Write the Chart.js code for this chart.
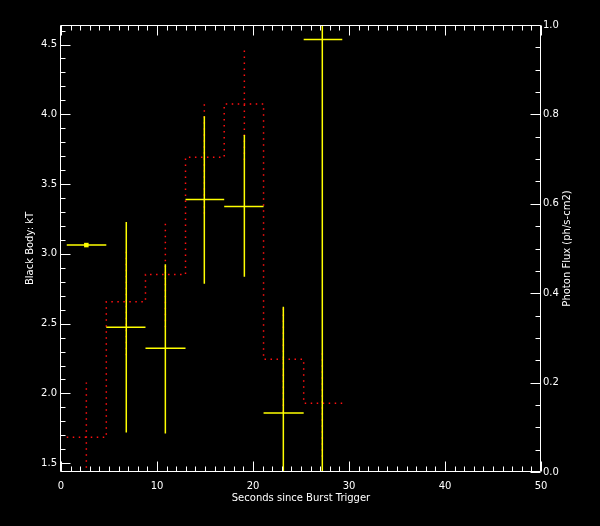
<!DOCTYPE html>
<html>
<head>
<meta charset="utf-8">
<title>Black Body kT / Photon Flux</title>
<script src="https://cdn.jsdelivr.net/npm/chart.js@4.4.1/dist/chart.umd.min.js"></script>
<style>
  html, body { margin: 0; padding: 0; background: #000; }
  canvas { display: block; }
</style>
</head>
<body>
<canvas id="burstChart" width="600" height="526"></canvas>
<script>
// time bins (seconds since trigger), shared by the kT fits and the flux histogram
const binEdges = [0.6, 4.72, 8.8, 12.97, 17.0, 21.1, 25.28, 29.3];
const binMid = [2.64, 6.8, 10.87, 14.93, 19.1, 23.16, 27.22];

// black body kT and its error range (left axis)
const kT = [3.063, 2.474, 2.324, 3.390, 3.340, 1.859, 4.536];
const kTLow = [3.063, 1.72, 1.712, 2.786, 2.836, 1.40, 1.40];
const kTHigh = [3.063, 3.228, 2.925, 3.987, 3.851, 2.622, 4.90];

// photon flux per bin and its error (right axis)
const flux = [0.078, 0.381, 0.442, 0.704, 0.823, 0.252, 0.154];
const fluxErr = [0.122, 0.12, 0.118, 0.126, 0.125, 0.118, 0.12];

// axis ranges and [minor, major] tick steps
const xRange = [0, 50];
const xSteps = [1, 10];
const kTRange = [1.437, 4.64];
const kTSteps = [0.1, 0.5];
const fluxRange = [0, 1];
const fluxSteps = [0.05, 0.2];

const fluxTitle = 'Photon Flux (ph/s-cm2)';

const YELLOW = '#ffff00';
const RED = '#ff1010';

function isMult(v, step) {
  const r = v / step;
  return Math.abs(r - Math.round(r)) < 1e-6;
}

function stepTicks(lo, hi, step) {
  const out = [];
  for (let i = Math.ceil(lo / step - 1e-9); i * step <= hi + 1e-9; i++) {
    out.push({ value: +(i * step).toFixed(4) });
  }
  return out;
}

// histogram outline: each bin gives a flat piece, consecutive pieces join with a vertical step
const fluxOutline = [];
flux.forEach((f, i) => {
  fluxOutline.push({ x: binEdges[i], y: f });
  fluxOutline.push({ x: binEdges[i + 1], y: f });
});

const fluxBars = [];
flux.forEach((f, i) => {
  fluxBars.push({ x: binMid[i], y: f - fluxErr[i] });
  fluxBars.push({ x: binMid[i], y: f + fluxErr[i] });
  fluxBars.push({ x: binMid[i], y: null });
});

const kTWidth = [];
const kTBars = [];
kT.forEach((k, i) => {
  kTWidth.push({ x: binEdges[i], y: k });
  kTWidth.push({ x: binEdges[i + 1], y: k });
  kTWidth.push({ x: binEdges[i + 1], y: null });
  if (kTHigh[i] > kTLow[i]) {
    kTBars.push({ x: binMid[i], y: kTLow[i] });
    kTBars.push({ x: binMid[i], y: kTHigh[i] });
    kTBars.push({ x: binMid[i], y: null });
  }
});

const font = { family: 'DejaVu Sans', size: 10 };

// IDL-style frame with inward ticks on all four sides, plus the right title read bottom-up
const frameTicks = {
  id: 'frameTicks',
  afterDraw(chart) {
    const { ctx, chartArea: a, scales } = chart;
    const L = a.left - 0.5, R = a.right - 0.5, T = a.top + 0.5, B = a.bottom - 0.5;
    ctx.save();
    ctx.strokeStyle = '#ffffff';
    ctx.lineWidth = 1;
    ctx.beginPath();
    ctx.rect(L, T, R - L, B - T);

    scales.x.ticks.forEach(t => {
      if (!isMult(t.value, xSteps[0])) return;
      const len = isMult(t.value, xSteps[1]) ? 10 : 5;
      const px = Math.round(scales.x.getPixelForValue(t.value)) + 0.5;
      ctx.moveTo(px, B); ctx.lineTo(px, B - len);
      ctx.moveTo(px, T); ctx.lineTo(px, T + len);
    });
    scales.y.ticks.forEach(t => {
      if (!isMult(t.value, kTSteps[0])) return;
      const len = isMult(t.value, kTSteps[1]) ? 10 : 5;
      const py = Math.round(scales.y.getPixelForValue(t.value)) + 0.5;
      ctx.moveTo(L, py); ctx.lineTo(L + len, py);
    });
    scales.y2.ticks.forEach(t => {
      if (!isMult(t.value, fluxSteps[0])) return;
      const len = isMult(t.value, fluxSteps[1]) ? 10 : 5;
      const py = Math.round(scales.y2.getPixelForValue(t.value)) + 0.5;
      ctx.moveTo(R, py); ctx.lineTo(R - len, py);
    });
    ctx.stroke();

    ctx.translate(scales.y2.right - 33, (a.top + a.bottom) / 2);
    ctx.rotate(-Math.PI / 2);
    ctx.fillStyle = '#ffffff';
    ctx.font = '10px "DejaVu Sans"';
    ctx.textAlign = 'center';
    ctx.textBaseline = 'middle';
    ctx.fillText(fluxTitle, 0, 0);
    ctx.restore();
  }
};

new Chart(document.getElementById('burstChart'), {
  type: 'line',
  data: {
    datasets: [
      {
        label: 'Photon flux',
        data: fluxOutline,
        yAxisID: 'y2',
        borderColor: RED,
        borderWidth: 1.5,
        borderDash: [1.5, 4.5],
        pointRadius: 0,
        order: 3
      },
      {
        label: 'Photon flux error',
        data: fluxBars,
        yAxisID: 'y2',
        borderColor: RED,
        borderWidth: 1.5,
        borderDash: [1.5, 4.5],
        pointRadius: 0,
        spanGaps: false,
        order: 3
      },
      {
        label: 'kT bin width',
        data: kTWidth,
        yAxisID: 'y',
        borderColor: YELLOW,
        borderWidth: 1.5,
        pointRadius: 0,
        spanGaps: false,
        order: 2
      },
      {
        label: 'kT error',
        data: kTBars,
        yAxisID: 'y',
        borderColor: YELLOW,
        borderWidth: 1.5,
        pointRadius: 0,
        spanGaps: false,
        order: 2
      },
      {
        label: 'first kT',
        data: [{ x: binMid[0], y: kT[0] }],
        yAxisID: 'y',
        showLine: false,
        pointStyle: 'rect',
        pointRadius: 3.2,
        pointBackgroundColor: YELLOW,
        pointBorderWidth: 0,
        order: 1
      }
    ]
  },
  options: {
    responsive: false,
    animation: false,
    events: [],
    layout: { padding: { top: 25, left: 0, right: 0, bottom: 0 } },
    plugins: {
      legend: { display: false },
      tooltip: { enabled: false }
    },
    scales: {
      x: {
        type: 'linear',
        position: 'bottom',
        min: xRange[0],
        max: xRange[1],
        afterBuildTicks: s => { s.ticks = stepTicks(s.min, s.max, xSteps[0]); },
        afterFit: s => { s.height = 54; },
        grid: { display: false, drawTicks: false },
        border: { display: false },
        ticks: {
          autoSkip: false,
          maxRotation: 0,
          padding: 8,
          color: '#ffffff',
          font,
          callback: v => isMult(v, xSteps[1]) ? String(Math.round(v)) : ''
        },
        title: {
          display: true,
          text: 'Seconds since Burst Trigger',
          color: '#ffffff',
          font,
          padding: { top: 0, bottom: 22 }
        }
      },
      y: {
        type: 'linear',
        position: 'left',
        min: kTRange[0],
        max: kTRange[1],
        afterBuildTicks: s => { s.ticks = stepTicks(s.min, s.max, kTSteps[0]); },
        afterFit: s => { s.width = 61; },
        grid: { display: false, drawTicks: false },
        border: { display: false },
        ticks: {
          autoSkip: false,
          padding: 4,
          color: '#ffffff',
          font,
          callback: v => isMult(v, kTSteps[1]) ? v.toFixed(1) : ''
        },
        title: {
          display: true,
          text: 'Black Body: kT',
          color: '#ffffff',
          font,
          padding: { top: 24, bottom: 0 }
        }
      },
      y2: {
        type: 'linear',
        position: 'right',
        min: fluxRange[0],
        max: fluxRange[1],
        afterBuildTicks: s => { s.ticks = stepTicks(s.min, s.max, fluxSteps[0]); },
        afterFit: s => { s.width = 59; },
        grid: { display: false, drawTicks: false },
        border: { display: false },
        ticks: {
          autoSkip: false,
          padding: 2,
          color: '#ffffff',
          font,
          callback: v => isMult(v, fluxSteps[1]) ? v.toFixed(1) : ''
        }
      }
    }
  },
  plugins: [frameTicks]
});
</script>
</body>
</html>
